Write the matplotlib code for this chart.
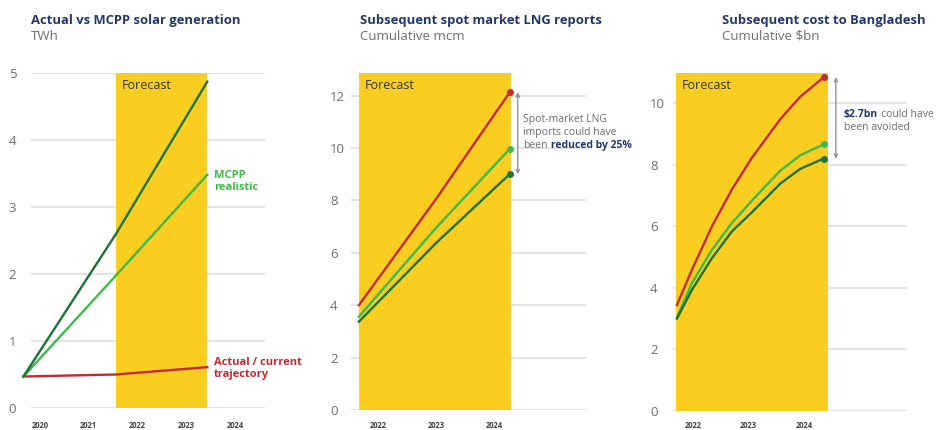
import matplotlib
matplotlib.use("Agg")
import matplotlib.pyplot as plt
import matplotlib.transforms as mtransforms

#############
# DATA      #
#############

# Panel 1 : solar generation (TWh)
solar_years      = [2019.66, 2021.56, 2023.43]
solar_ambitious  = [0.47, 2.6, 4.87]
solar_realistic  = [0.47, 1.98, 3.48]
solar_actual     = [0.47, 0.50, 0.61]
solar_yticks     = [0, 1, 2, 3, 4, 5]
solar_xticks     = [2020, 2021, 2022, 2023, 2024]
solar_forecast   = (2021.56, 2023.43)

# Panel 2 : spot market LNG (cumulative mcm)
lng_years        = [2021.67, 2023.0, 2024.27]
lng_actual       = [4.0, 8.05, 12.12]
lng_realistic    = [3.56, 6.95, 9.96]
lng_ambitious    = [3.37, 6.37, 9.0]
lng_yticks       = [0, 2, 4, 6, 8, 10, 12]
lng_xticks       = [2022, 2023, 2024]
lng_forecast     = (2021.67, 2024.29)

# Panel 3 : cost to Bangladesh (cumulative $bn)
cost_years       = [2021.71, 2021.98, 2022.34, 2022.70, 2023.06, 2023.57, 2023.93, 2024.35]
cost_actual      = [3.44, 4.58, 5.99, 7.19, 8.22, 9.47, 10.2, 10.83]
cost_realistic   = [3.02, 4.15, 5.23, 6.10, 6.83, 7.8, 8.3, 8.65]
cost_ambitious   = [3.0, 3.93, 4.96, 5.83, 6.45, 7.38, 7.86, 8.19]
cost_yticks      = [0, 2, 4, 6, 8, 10]
cost_xticks      = [2022, 2023, 2024]
cost_forecast    = (2021.69, 2024.42)

##############
# STYLE      #
##############

plt.rcParams['font.family'] = ['Open Sans', 'DejaVu Sans']

W, H = 936, 430
DARK   = '#1d7236'
LIGHT  = '#3fb94b'
RED    = '#c7282f'
NAVY   = '#22386b'
YELLOW = '#f9ce20'
GRID   = '#e4e4e4'
GREY   = '#6e6e6e'

fig = plt.figure(figsize=(W/100, H/100), dpi=100)

def make_axes(left, right, top, bottom):
    # positions given in pixels of the final picture
    return fig.add_axes([left/W, 1-bottom/H, (right-left)/W, (bottom-top)/H])

def style_axes(ax, yticks, xticks, xlim, ylim, ypad, xpad):
    ax.set_xlim(*xlim)
    ax.set_ylim(*ylim)
    for s in ax.spines.values():
        s.set_visible(False)
    ax.set_yticks(yticks)
    ax.set_xticks(xticks)
    ax.grid(axis='y', color=GRID, lw=1.6, zorder=0)
    ax.set_axisbelow(True)
    ax.tick_params(axis='y', length=0, pad=ypad, labelsize=9.5, labelcolor=GREY)
    ax.tick_params(axis='x', length=0, pad=xpad, labelsize=5.5, labelcolor='#444444')
    for lab in ax.get_yticklabels():
        lab.set_horizontalalignment('left')
    for lab in ax.get_xticklabels():
        lab.set_fontweight('bold')

def forecast_band(ax, span):
    ax.axvspan(span[0], span[1], color=YELLOW, lw=0, zorder=1)
    off = mtransforms.offset_copy(ax.transData, fig=fig, x=6, y=-6, units='dots')
    ax.text(span[0], ax.get_ylim()[1], 'Forecast', transform=off, fontsize=9,
            color='#333333', ha='left', va='top', zorder=3)

def titles(x, title, subtitle):
    fig.text(x/W, 1-24/H, title, fontsize=9.4, fontweight='bold', color=NAVY, va='baseline')
    fig.text(x/W, 1-40/H, subtitle, fontsize=9.5, color=GREY, va='baseline')

def note_line(ax, x, y, dy, txt, **kw):
    # one line of the side note, dy pixels below the anchor point
    off = mtransforms.offset_copy(ax.transData, fig=fig, x=0, y=-dy, units='dots')
    return ax.text(x, y, txt, transform=off, fontsize=7.5, va='center', ha='left', **kw)

def double_arrow(ax, x, y0, y1):
    ax.annotate('', xy=(x, y0), xytext=(x, y1),
                arrowprops=dict(arrowstyle='<->', color='#8a8a8a', lw=0.9,
                                mutation_scale=6, shrinkA=0, shrinkB=0))

#####################################
# FIRST GRAPH: solar generation     #
#####################################

ax1 = make_axes(31, 265, 73, 408)
style_axes(ax1, solar_yticks, solar_xticks, (2019.815, 2024.615), (0, 5), 16, 9.5)
forecast_band(ax1, solar_forecast)
ax1.plot(solar_years, solar_actual, color=RED, lw=1.7, zorder=4, clip_on=False)
ax1.plot(solar_years, solar_realistic, color=LIGHT, lw=1.7, zorder=4, clip_on=False)
ax1.plot(solar_years, solar_ambitious, color=DARK, lw=1.7, zorder=5, clip_on=False)
ax1.text(2023.57, 3.55, 'MCPP\nrealistic', color=LIGHT, fontsize=8, fontweight='bold',
         va='top', ha='left', linespacing=1.1)
ax1.text(2023.57, 0.76, 'Actual / current\ntrajectory', color=RED, fontsize=8, fontweight='bold',
         va='top', ha='left', linespacing=1.1)
titles(31, 'Actual vs MCPP solar generation', 'TWh')

#####################################
# SECOND GRAPH: spot market LNG     #
#####################################

ax2 = make_axes(351, 586, 73, 410)
style_axes(ax2, lng_yticks, lng_xticks, (2021.534, 2025.586), (0, 12.86), 15, 8)
forecast_band(ax2, lng_forecast)
for vals, col in [(lng_actual, RED), (lng_realistic, LIGHT), (lng_ambitious, DARK)]:
    ax2.plot(lng_years, vals, color=col, lw=1.7, zorder=4)
    ax2.plot(lng_years[-1], vals[-1], 'o', color=col, ms=4, zorder=5)
double_arrow(ax2, 2024.41, lng_actual[-1], lng_ambitious[-1])
note_line(ax2, 2024.5, 11.07, 0, 'Spot-market LNG', color=GREY)
note_line(ax2, 2024.5, 11.07, 12.7, 'imports could have', color=GREY)
been = note_line(ax2, 2024.5, 11.07, 25.4, 'been', color=GREY)
ax2.annotate('reduced by 25%', xy=(1, 0), xycoords=been, xytext=(2.2, 0),
             textcoords='offset points', fontsize=7.5, fontweight='bold', color=NAVY,
             va='bottom', ha='left')
titles(360, 'Subsequent spot market LNG reports', 'Cumulative mcm')

#####################################
# THIRD GRAPH: cost to Bangladesh   #
#####################################

ax3 = make_axes(673, 907, 73, 411)
style_axes(ax3, cost_yticks, cost_xticks, (2021.64, 2025.85), (0, 10.97), 16.5, 7.5)
forecast_band(ax3, cost_forecast)
for vals, col in [(cost_actual, RED), (cost_realistic, LIGHT), (cost_ambitious, DARK)]:
    ax3.plot(cost_years, vals, color=col, lw=1.7, zorder=4)
    ax3.plot(cost_years[-1], vals[-1], 'o', color=col, ms=4, zorder=5)
double_arrow(ax3, 2024.57, cost_actual[-1], cost_ambitious[-1])
amount = note_line(ax3, 2024.71, 9.63, 0, '$2.7bn', color=NAVY, fontweight='bold')
ax3.annotate('could have', xy=(1, 0), xycoords=amount, xytext=(2.2, 0),
             textcoords='offset points', fontsize=7.5, color=GREY, va='bottom', ha='left')
note_line(ax3, 2024.71, 9.63, 13, 'been avoided', color=GREY)
titles(722, 'Subsequent cost to Bangladesh', 'Cumulative $bn')

plt.savefig('out.png', dpi=100, facecolor='white')
